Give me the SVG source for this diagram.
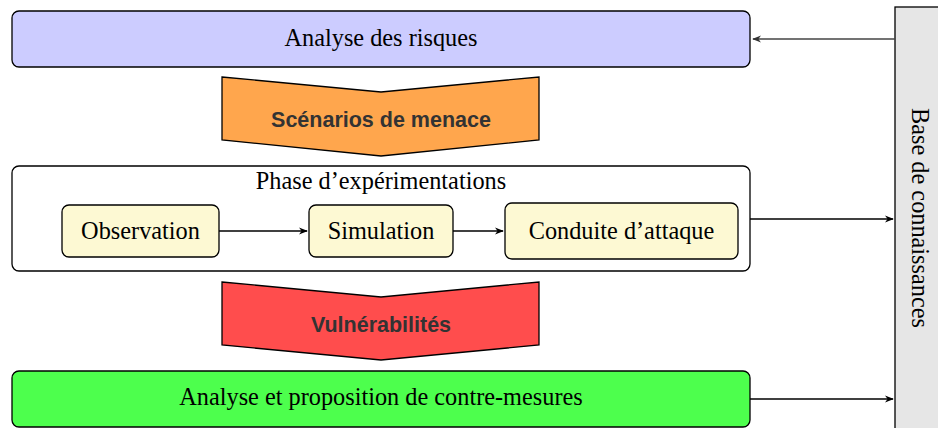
<svg xmlns="http://www.w3.org/2000/svg" width="938" height="428" viewBox="0 0 938 428">
<style>
.box{stroke:#000;stroke-width:1.3}
.serif{font-family:"Liberation Serif","Times New Roman",serif;font-size:24.3px;fill:#000;text-anchor:middle}
.sans{font-family:"Liberation Sans",Arial,sans-serif;font-weight:bold;font-size:21.5px;fill:#333;text-anchor:middle}
.edge{fill:none;stroke:#000;stroke-width:1.4}
</style>
<defs>
<marker id="arr" viewBox="0 0 10 10" refX="9" refY="5" markerWidth="9" markerHeight="9" markerUnits="userSpaceOnUse" orient="auto">
<path d="M0,1 L10,5 L0,9 L3,5 Z" fill="#000"/>
</marker>
<marker id="arrg" viewBox="0 0 10 10" refX="9" refY="5" markerWidth="9" markerHeight="9" markerUnits="userSpaceOnUse" orient="auto">
<path d="M0,1 L10,5 L0,9 L3,5 Z" fill="#333"/>
</marker>
</defs>
<g id="kb">
<rect class="box" x="895" y="7" width="50" height="430" fill="#e6e6e6"/>
<text class="serif" transform="translate(912,218) rotate(90)" x="0" y="0">Base de connaissances</text>
</g>
<g id="risques">
<rect class="box" x="12" y="11" width="738" height="56" rx="7" fill="#ccccff"/>
<text class="serif" x="381" y="46">Analyse des risques</text>
</g>
<g id="scenarios">
<polygon class="box" points="222,77 381,92 539,77 539,140 381,156 222,140" fill="#ffa64d"/>
<text class="sans" x="381" y="127">Scénarios de menace</text>
</g>
<g id="phase">
<rect class="box" x="12" y="166" width="738" height="105" rx="7" fill="#fff"/>
<text class="serif" x="381" y="189">Phase d’expérimentations</text>
</g>
<g id="observation">
<rect class="box" x="62" y="205" width="157" height="52" rx="7" fill="#fdf9d3"/>
<text class="serif" x="140.5" y="239">Observation</text>
</g>
<g id="simulation">
<rect class="box" x="309" y="205" width="144" height="52" rx="7" fill="#fdf9d3"/>
<text class="serif" x="381" y="239">Simulation</text>
</g>
<g id="conduite">
<rect class="box" x="505" y="203" width="233" height="56" rx="7" fill="#fdf9d3"/>
<text class="serif" x="621.5" y="239">Conduite d’attaque</text>
</g>
<g id="vulnerabilites">
<polygon class="box" points="222,282 381,297 539,282 539,345 381,360 222,345" fill="#ff4d4d"/>
<text class="sans" x="381" y="332">Vulnérabilités</text>
</g>
<g id="contremesures">
<rect class="box" x="12" y="371" width="738" height="56" rx="7" fill="#4dff4d"/>
<text class="serif" x="381" y="405">Analyse et proposition de contre-mesures</text>
</g>
<g id="connectors">
<line class="edge" x1="895" y1="39" x2="753" y2="39" marker-end="url(#arrg)" style="stroke:#444"/>
<line class="edge" x1="219" y1="231" x2="307" y2="231" marker-end="url(#arr)"/>
<line class="edge" x1="453" y1="231" x2="503" y2="231" marker-end="url(#arr)"/>
<line class="edge" x1="750" y1="219" x2="893" y2="219" marker-end="url(#arr)"/>
<line class="edge" x1="750" y1="399" x2="893" y2="399" marker-end="url(#arr)"/>
</g>
</svg>
